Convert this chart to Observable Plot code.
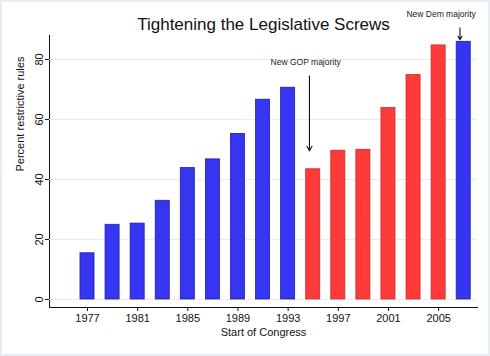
<!DOCTYPE html>
<html>
<head>
<meta charset="utf-8">
<script src="https://cdn.jsdelivr.net/npm/d3@7"></script>
<script src="https://cdn.jsdelivr.net/npm/@observablehq/plot@0.6"></script>
<style>
  html, body { margin: 0; padding: 0; background: #fff; }
  #wrap { position: relative; width: 490px; height: 356px; overflow: hidden; }
  #border { position: absolute; left: 0; top: 0; width: 490px; height: 356px; box-sizing: border-box; border: 2px solid #e8edf1; pointer-events: none; }
  svg { display: block; font-family: "Liberation Sans", Arial, sans-serif; }
</style>
</head>
<body>
<div id="wrap"><div id="border"></div></div>
<script>
const years = [1977, 1979, 1981, 1983, 1985, 1987, 1989, 1991, 1993, 1995, 1997, 1999, 2001, 2003, 2005, 2007];
const values = [15.4, 24.9, 25.3, 32.9, 43.8, 46.7, 55.2, 66.6, 70.6, 43.4, 49.6, 49.9, 63.8, 74.8, 84.7, 85.9];
const party = ["D","D","D","D","D","D","D","D","D","R","R","R","R","R","R","D"];
const xTicks = [1977, 1981, 1985, 1989, 1993, 1997, 2001, 2005];
const yTicks = [0, 20, 40, 60, 80];
const xDomain = [1973.97, 2008.1];
const yDomain = [-2.67, 88];

const noteLabels = ["New GOP majority", "New Dem majority"];
const noteTextX = [1994.4, 2005.2];
const noteTextY = [79.2, 95];
const noteArrowX = [1994.7, 2006.7];
const noteArrowTop = [74.6, 90.6];
const noteArrowBottom = [49.6, 86.6];

const titleText = "Tightening the Legislative Screws";
const xLabel = "Start of Congress";
const yLabel = "Percent restrictive rules";

const halfWidth = 0.56;
const data = years.map((year, i) => ({year, value: values[i], party: party[i]}));
const notes = noteLabels.map((label, i) => ({
  label, tx: noteTextX[i], ty: noteTextY[i], ax: noteArrowX[i], a1: noteArrowTop[i], a2: noteArrowBottom[i]
}));

const chart = Plot.plot({
  width: 490,
  height: 356,
  marginTop: 35,
  marginBottom: 49,
  marginLeft: 49,
  marginRight: 13,
  style: { fontFamily: '"Liberation Sans", Arial, sans-serif', fontSize: "11px", color: "#111", background: "transparent" },
  x: {
    type: "linear",
    domain: xDomain,
    ticks: xTicks,
    tickFormat: d => String(d),
    tickSize: 4,
    tickPadding: 3,
    line: true,
    label: null
  },
  y: {
    domain: yDomain,
    ticks: yTicks,
    tickSize: 4,
    tickPadding: 3,
    tickRotate: -90,
    line: true,
    label: null
  },
  color: { domain: ["D", "R"], range: ["#3535f2", "#ff3a3a"] },
  marks: [
    Plot.ruleY(yTicks, { stroke: "#e6ecf0", strokeWidth: 1 }),
    Plot.rectY(data, {
      x1: d => d.year - halfWidth,
      x2: d => d.year + halfWidth,
      y1: 0,
      y2: "value",
      fill: "party",
      stroke: d => d.party === "D" ? "#1e1ea8" : "#cc2a2a",
      strokeWidth: 0.8
    }),
    Plot.arrow(notes, {
      x1: "ax", x2: "ax", y1: "a1", y2: "a2",
      stroke: "#111", strokeWidth: 1.1, headLength: 7, bend: 0
    }),
    Plot.text(notes, {
      x: "tx", y: "ty", text: "label",
      fontSize: 8.5, fill: "#222"
    }),
    Plot.text([titleText], {
      frameAnchor: "top", dy: -11, text: d => d,
      fontSize: 17, fill: "#111", lineAnchor: "middle"
    }),
    Plot.text([xLabel], {
      frameAnchor: "bottom", dy: 25, text: d => d,
      fontSize: 11, fill: "#111", lineAnchor: "middle"
    }),
    Plot.text([yLabel], {
      frameAnchor: "left", dx: -29, rotate: -90, text: d => d,
      fontSize: 11, fill: "#111", lineAnchor: "middle"
    })
  ]
});

document.getElementById("wrap").prepend(chart);
</script>
</body>
</html>
